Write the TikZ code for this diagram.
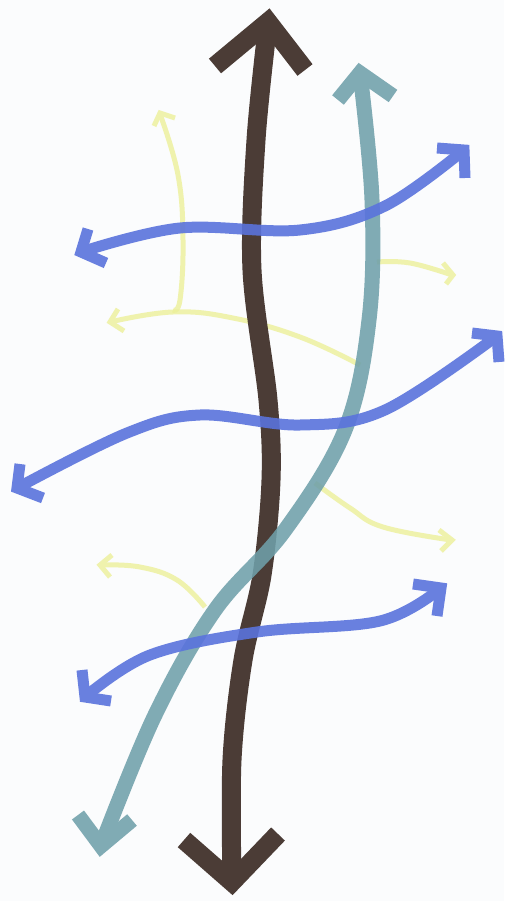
\documentclass[tikz,border=0pt]{standalone}
\usetikzlibrary{calc}
\definecolor{bgc}{HTML}{FBFCFD}
\definecolor{brownc}{HTML}{4B3C36}
\definecolor{tealc}{HTML}{6FA0AA}
\definecolor{bluec}{HTML}{5A73DC}
\definecolor{yellowc}{HTML}{ECF09A}
\tikzset{
  brownline/.style={draw=brownc, line width=19pt, line join=miter, miter limit=10},
  tealline/.style={draw=tealc, line width=15pt, line join=miter, miter limit=10},
  blueline/.style={draw=bluec, line width=11pt, line join=miter, miter limit=10},
  yellowline/.style={draw=yellowc, line width=5pt, line join=miter, miter limit=10},
}
\begin{document}
\begin{tikzpicture}[x=1pt,y=-1pt]
\fill[bgc] (0,0) rectangle (504,901);
\useasboundingbox (0,0) rectangle (504,901);

% yellow arrows
\begin{scope}[transparency group, opacity=0.8]
\draw[yellowline] plot[smooth, tension=0.7] coordinates {(160,114) (178,175) (183,240) (180,300) (173,310)};
\draw[yellowline] (154,126) -- (160,113) -- (175,118);
\end{scope}
\begin{scope}[transparency group, opacity=0.8]
\draw[yellowline] plot[smooth, tension=0.7] coordinates {(360,365) (300,337) (233,318) (173,312) (110,322)};
\draw[yellowline] (118,309) -- (110,322) -- (124,331);
\end{scope}
\begin{scope}[transparency group, opacity=0.8]
\draw[yellowline] plot[smooth, tension=0.7] coordinates {(377,262) (410,263) (452,275)};
\draw[yellowline] (443,263) -- (453,275) -- (446,284);
\end{scope}
\begin{scope}[transparency group, opacity=0.8]
\draw[yellowline] plot[smooth, tension=0.7] coordinates {(315,483) (350,508) (383,527) (451,540)};
\draw[yellowline] (439,530) -- (452,540) -- (441,551);
\end{scope}
\begin{scope}[transparency group, opacity=0.8]
\draw[yellowline] plot[smooth, tension=0.7] coordinates {(101,565) (140,567) (177,580) (205,607)};
\draw[yellowline] (112,555) -- (100,565) -- (110,577);
\end{scope}

% brown arrow
\begin{scope}
\draw[brownline] plot[smooth, tension=0.55] coordinates {(268,22) (256,140) (252,270) (268,400) (271,480) (262,575) (243,660) (232,760) (232,882)};
\draw[brownline] (215,66) -- (268,22) -- (305,70);
\draw[brownline] (184,840) -- (232,882) -- (278,834);
\end{scope}

% teal arrow
\begin{scope}[transparency group, opacity=0.88]
\draw[tealline] plot[smooth, tension=0.6] coordinates {(360,73) (372,200) (369,320) (345,430) (285,530) (215,610) (155,715) (101,846)};
\draw[tealline] (338,100) -- (360,73) -- (393,96);
\draw[tealline] (78,815) -- (101,846) -- (132,820);
\end{scope}

% blue arrows
\begin{scope}[transparency group, opacity=0.9]
\draw[blueline] plot[smooth, tension=0.6] coordinates {(81,252) (180,228) (300,230) (385,206) (464,150)};
\draw[blueline] (88,229) -- (81,252) -- (106,263);
\draw[blueline] (437,148) -- (464,150) -- (465,178);
\end{scope}
\begin{scope}[transparency group, opacity=0.9]
\draw[blueline] plot[smooth, tension=0.6] coordinates {(17,488) (127,433) (200,415) (300,425) (385,410) (497,336)};
\draw[blueline] (20,464) -- (17,488) -- (43,498);
\draw[blueline] (472,333) -- (497,336) -- (499,362);
\end{scope}
\begin{scope}[transparency group, opacity=0.9]
\draw[blueline] plot[smooth, tension=0.6] coordinates {(85,697) (150,655) (257,632) (380,621) (441,588)};
\draw[blueline] (82,670) -- (85,697) -- (111,701);
\draw[blueline] (413,584) -- (441,588) -- (437,616);
\end{scope}
\end{tikzpicture}
\end{document}
